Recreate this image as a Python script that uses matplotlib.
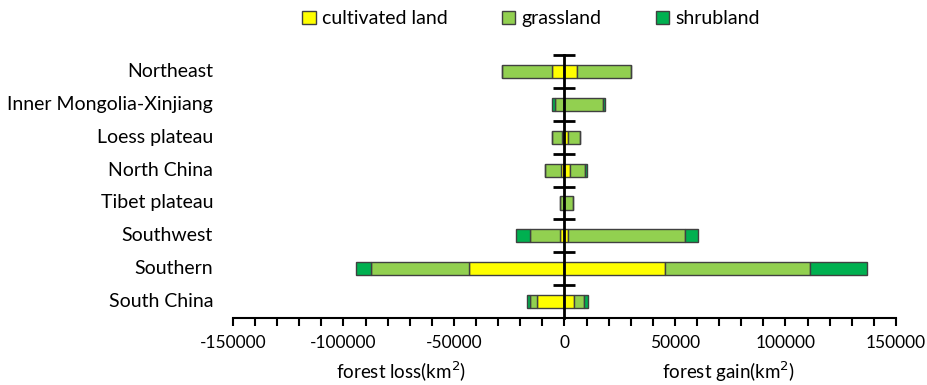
import matplotlib.pyplot as plt
import matplotlib.transforms as mtransforms
from matplotlib.patches import Patch
import numpy as np

plt.rcParams['font.family'] = ['Lato', 'DejaVu Sans']
plt.rcParams['axes.unicode_minus'] = False

### Data ###
regions = ['Northeast', 'Inner Mongolia-Xinjiang', 'Loess plateau', 'North China',
           'Tibet plateau', 'Southwest', 'Southern', 'South China']
land_types = ['cultivated land', 'grassland', 'shrubland']
colors = ['#FFFF00', '#92D050', '#00B050']

# forest loss (km2), converted to the three land types
loss_cultivated = [5700, 0, 1300, 1500, 0, 1800, 43000, 12400]
loss_grassland = [22700, 4500, 4400, 7500, 2200, 14000, 44500, 3000]
loss_shrubland = [0, 1100, 0, 0, 0, 5900, 6700, 1500]

# forest gain (km2), converted from the three land types
gain_cultivated = [5700, 0, 1800, 2300, 0, 1700, 45700, 4200]
gain_grassland = [24200, 17300, 5300, 6900, 3800, 52900, 65200, 4500]
gain_shrubland = [0, 1200, 0, 1100, 0, 5700, 26200, 1800]

### Plotting ###
fig = plt.figure(figsize=(9.28, 3.85), dpi=100)
ax = fig.add_axes([0.251, 0.174, 0.7145, 0.683])

y = np.arange(len(regions))[::-1]
h = 0.4
edge = '#404040'

left = np.zeros(len(regions))
for vals, c in zip([loss_cultivated, loss_grassland, loss_shrubland], colors):
    v = -np.array(vals, dtype=float)
    ax.barh(y, v, left=left, height=h, color=c, edgecolor=edge, linewidth=1, zorder=2)
    left += v

left = np.zeros(len(regions))
for vals, c in zip([gain_cultivated, gain_grassland, gain_shrubland], colors):
    v = np.array(vals, dtype=float)
    ax.barh(y, v, left=left, height=h, color=c, edgecolor=edge, linewidth=1, zorder=2)
    left += v

ax.set_xlim(-150000, 150000)
ax.set_ylim(-0.5, len(regions) - 0.5)

# spines
ax.spines['top'].set_visible(False)
ax.spines['right'].set_visible(False)
ax.spines['left'].set_position(('data', 0))
ax.spines['left'].set_linewidth(2)
ax.spines['left'].set_zorder(3)
ax.spines['bottom'].set_linewidth(1.5)

# x ticks
ax.set_xticks(np.arange(-150000, 150001, 50000))
ax.set_xticks(np.arange(-150000, 150001, 10000), minor=True)
ax.tick_params(axis='x', which='both', direction='out', length=6, width=1.5,
               labelsize=12.5, pad=6)

# y ticks at category boundaries
ax.set_yticks(np.arange(0.5, len(regions), 1.0))
ax.tick_params(axis='y', which='both', direction='inout', length=16, width=2,
               labelleft=False)

trans = mtransforms.blended_transform_factory(ax.transAxes, ax.transData)
for yi, name in zip(y, regions):
    ax.text(-0.03, yi, name, transform=trans, ha='right', va='center', fontsize=14)

fig.text(0.432, 0.034, 'forest loss(km$^2$)', ha='center', va='center', fontsize=13.5)
fig.text(0.785, 0.034, 'forest gain(km$^2$)', ha='center', va='center', fontsize=13.5)

handles = [Patch(facecolor=c, edgecolor=edge, linewidth=1) for c in colors]
fig.legend(handles, land_types, loc='center', bbox_to_anchor=(0.572, 0.951), ncol=3,
           frameon=False, fontsize=14, handlelength=0.7, handleheight=0.7,
           handletextpad=0.3, columnspacing=2.8)

plt.savefig('out.png')
